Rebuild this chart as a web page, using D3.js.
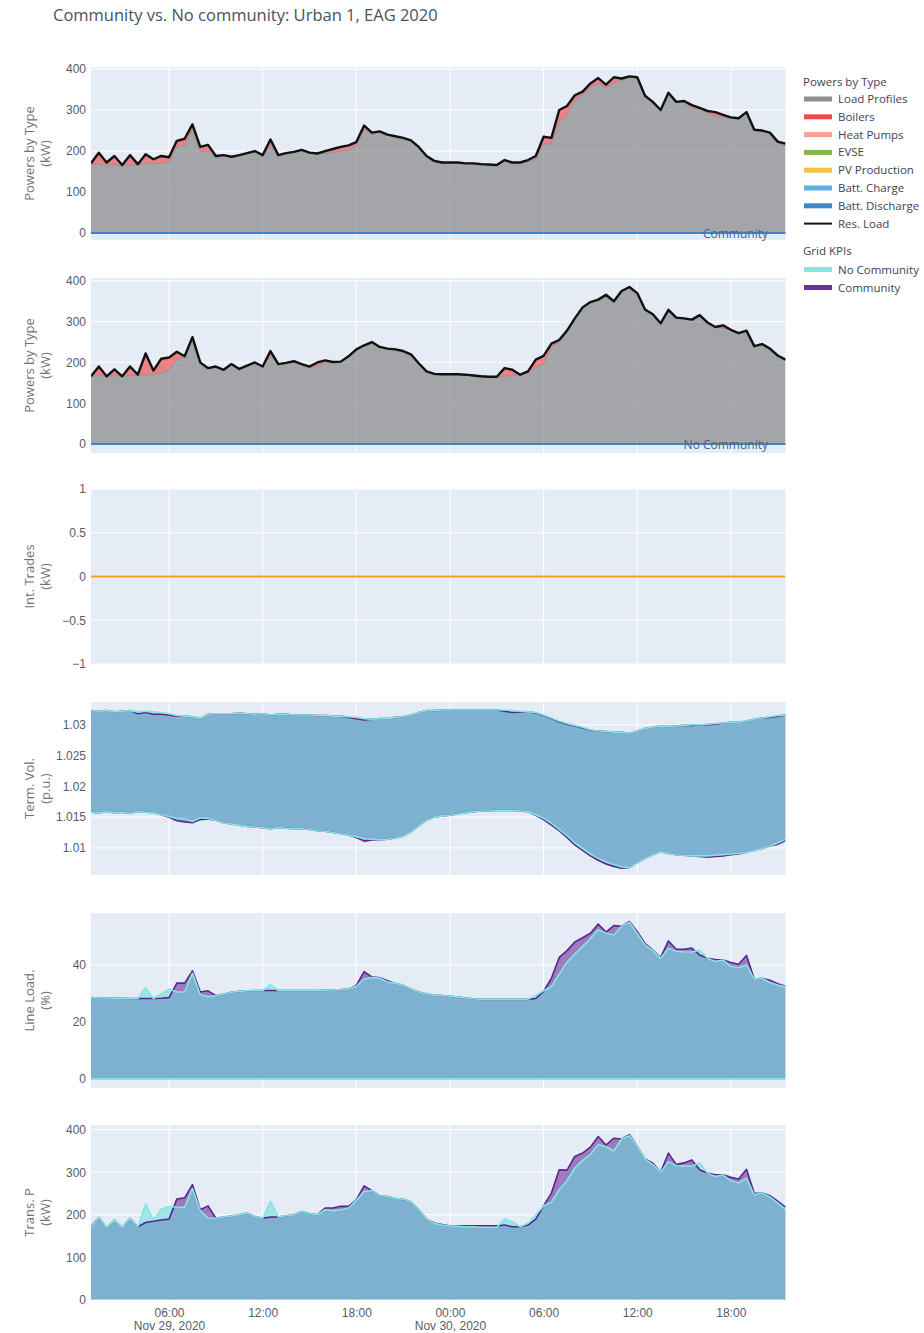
<!DOCTYPE html>
<html lang="en">
<head>
<meta charset="UTF-8">
<title>Community vs. No community: Urban 1, EAG 2020</title>
<script src="https://d3js.org/d3.v7.min.js"></script>
<style>
  body { margin: 0; background: #fff; }
  svg { font-family: "Open Sans", Verdana, Arial, sans-serif; }
  .tick text { fill: #565d68; font-size: 12px; }
  .ytitle { fill: #6b7380; font-size: 13px; }
  .legend text { fill: #3d4450; font-size: 11.5px; }
</style>
</head>
<body>
<div id="chart"></div>
<script>
// 30-minute samples, Nov 29 01:00 -> Nov 30 21:30 (90 points)

// Community: powers by type (kW)
const comLoad = [168,168,167,166,166,166,166,170,170,170,
  173,210,212,253,198,200,184,190,186,190,
  195,200,190,213,190,195,198,203,196,194,
  194,197,200,202,214,252,240,245,240,236,
  232,226,210,188,176,172,172,172,170,170,
  168,167,166,176,172,172,174,180,217,217,
  270,288,324,337,355,366,354,366,372,380,
  380,335,320,300,342,320,320,304,303,294,
  284,282,280,280,295,252,250,245,219,212];
const comBoilers = [2,28,5,22,0,24,2,22,10,18,
  12,15,18,12,12,15,4,0,0,0,
  0,0,0,15,0,0,0,0,0,0,
  6,8,10,12,8,10,5,3,0,0,
  0,0,0,0,0,0,0,0,0,0,
  0,0,0,2,0,0,4,8,18,15,
  30,22,12,8,10,12,8,14,5,2,
  0,0,0,0,0,0,2,8,2,0,
  8,6,2,0,0,0,0,0,4,6];
const comHeatPumps = [0,0,0,0,0,0,0,0,0,0, 0,0,0,0,0,0,0,0,0,0,
  0,0,0,0,0,0,0,0,0,0, 0,0,0,0,0,0,0,0,0,0,
  0,0,0,0,0,0,0,0,0,0, 0,0,0,0,0,0,0,0,0,0,
  0,0,0,0,0,0,0,0,0,0, 0,0,0,0,0,0,0,0,0,4,
  3,0,0,0,0,0,0,0,0,0];

// No community: powers by type (kW)
const ncLoad = [166,168,166,168,166,168,168,170,170,174,
  182,206,215,262,200,186,190,182,196,184,
  192,200,190,216,196,199,203,196,186,192,
  199,201,202,215,232,239,246,238,234,232,
  228,220,198,178,172,171,171,171,170,168,
  166,165,165,166,168,170,174,187,196,238,
  250,278,308,335,348,354,360,350,375,385,
  370,330,318,296,329,310,308,305,312,298,
  287,285,280,272,278,240,245,234,217,207];
const ncBoilers = [0,22,0,15,0,22,2,52,10,35,
  30,20,0,0,0,0,0,0,0,0,
  0,0,0,12,0,0,0,0,4,8,
  6,0,0,0,0,3,4,0,0,0,
  0,0,0,0,0,0,0,0,0,0,
  0,0,0,20,14,0,4,20,20,8,
  5,0,0,0,0,0,6,0,0,0,
  0,0,0,0,0,0,0,0,4,0,
  0,0,0,0,0,0,0,0,0,0];
const ncHeatPumps = [0,0,0,0,0,0,0,0,0,0, 0,0,0,0,0,0,0,0,0,0,
  0,0,0,0,0,0,0,0,0,0, 0,0,0,0,0,0,0,0,0,0,
  0,0,0,0,0,0,0,0,0,0, 0,0,0,0,0,0,0,0,0,0,
  0,0,0,0,0,0,0,0,0,0, 0,0,0,0,0,0,0,0,0,0,
  0,6,0,0,0,0,0,0,0,0];

// Internal trades (kW)
const intTrades = new Array(90).fill(0);

// Terminal voltage band (p.u.)
const ncVmax = [1.0323,1.0322,1.0323,1.0321,1.0322,1.0323,1.0321,1.0322,1.0321,1.0320,
  1.0318,1.0315,1.0314,1.0313,1.0310,1.0317,1.0318,1.0318,1.0318,1.0319,
  1.0318,1.0317,1.0318,1.0316,1.0317,1.0317,1.0316,1.0316,1.0316,1.0315,
  1.0315,1.0314,1.0314,1.0313,1.0312,1.0310,1.0309,1.0310,1.0310,1.0312,
  1.0313,1.0316,1.0320,1.0323,1.0323,1.0324,1.0324,1.0324,1.0324,1.0324,
  1.0324,1.0324,1.0324,1.0324,1.0323,1.0322,1.0321,1.0320,1.0316,1.0311,
  1.0306,1.0302,1.0299,1.0296,1.0292,1.0290,1.0289,1.0288,1.0288,1.0286,
  1.0290,1.0294,1.0296,1.0298,1.0297,1.0298,1.0299,1.0300,1.0300,1.0301,
  1.0302,1.0303,1.0304,1.0304,1.0306,1.0309,1.0311,1.0313,1.0315,1.0316];
const comVmax = [1.0323,1.0322,1.0323,1.0321,1.0322,1.0323,1.0318,1.0320,1.0317,1.0317,
  1.0316,1.0314,1.0314,1.0313,1.0310,1.0317,1.0318,1.0318,1.0318,1.0319,
  1.0318,1.0317,1.0318,1.0316,1.0317,1.0317,1.0316,1.0316,1.0316,1.0315,
  1.0315,1.0314,1.0314,1.0312,1.0310,1.0308,1.0309,1.0310,1.0310,1.0312,
  1.0313,1.0316,1.0320,1.0323,1.0323,1.0324,1.0324,1.0324,1.0324,1.0324,
  1.0324,1.0324,1.0324,1.0322,1.0320,1.0321,1.0321,1.0319,1.0315,1.0310,
  1.0305,1.0301,1.0298,1.0295,1.0291,1.0290,1.0289,1.0288,1.0288,1.0286,
  1.0290,1.0294,1.0296,1.0298,1.0297,1.0298,1.0299,1.0299,1.0300,1.0300,
  1.0301,1.0303,1.0304,1.0304,1.0306,1.0309,1.0311,1.0312,1.0314,1.0316];
const ncVmin = [1.0158,1.0157,1.0159,1.0157,1.0158,1.0156,1.0159,1.0158,1.0157,1.0154,
  1.0151,1.0148,1.0147,1.0143,1.0149,1.0148,1.0145,1.0141,1.0139,1.0137,
  1.0135,1.0134,1.0133,1.0131,1.0133,1.0132,1.0131,1.0131,1.0130,1.0128,
  1.0127,1.0125,1.0123,1.0121,1.0118,1.0115,1.0114,1.0113,1.0114,1.0116,
  1.0119,1.0126,1.0136,1.0145,1.0150,1.0152,1.0153,1.0155,1.0157,1.0159,
  1.0160,1.0160,1.0161,1.0161,1.0161,1.0160,1.0159,1.0154,1.0148,1.0140,
  1.0130,1.0120,1.0108,1.0099,1.0090,1.0083,1.0077,1.0073,1.0069,1.0068,
  1.0076,1.0083,1.0089,1.0094,1.0091,1.0089,1.0088,1.0087,1.0087,1.0087,
  1.0088,1.0089,1.0090,1.0091,1.0093,1.0096,1.0099,1.0103,1.0108,1.0114];
const comVmin = [1.0158,1.0157,1.0159,1.0157,1.0158,1.0156,1.0159,1.0158,1.0157,1.0154,
  1.0150,1.0144,1.0142,1.0141,1.0146,1.0147,1.0145,1.0141,1.0139,1.0137,
  1.0135,1.0134,1.0133,1.0131,1.0133,1.0132,1.0131,1.0131,1.0130,1.0128,
  1.0127,1.0125,1.0123,1.0121,1.0117,1.0111,1.0113,1.0113,1.0114,1.0116,
  1.0119,1.0126,1.0136,1.0145,1.0150,1.0152,1.0153,1.0155,1.0157,1.0159,
  1.0160,1.0160,1.0161,1.0161,1.0161,1.0160,1.0159,1.0153,1.0146,1.0137,
  1.0128,1.0117,1.0105,1.0096,1.0087,1.0080,1.0074,1.0070,1.0067,1.0068,
  1.0076,1.0083,1.0089,1.0094,1.0091,1.0089,1.0088,1.0087,1.0086,1.0085,
  1.0086,1.0087,1.0089,1.0090,1.0093,1.0096,1.0099,1.0103,1.0106,1.0112];

// Line loading (%)
const ncLineLoad = [28.5,28.4,28.4,28.3,28.3,28.2,28.2,32.0,28.2,29.8,
  31.5,30.5,30.5,37.1,29.5,28.8,29.2,29.8,30.4,30.7,
  30.9,31.0,31.0,33.1,31.0,31.0,31.0,31.0,31.0,31.0,
  31.1,31.2,31.3,31.5,32.5,35.0,35.6,35.3,34.0,33.5,
  32.8,31.5,30.5,29.8,29.4,29.2,29.0,28.7,28.4,28.1,
  27.9,27.9,27.9,27.9,27.9,27.9,27.9,29.3,30.9,32.4,
  36.8,41.0,43.8,46.5,49.2,52.3,51.2,50.5,53.5,55.0,
  51.0,47.0,45.0,42.3,45.8,44.8,44.6,44.5,45.2,42.3,
  41.2,41.7,39.5,39.0,40.0,35.0,35.3,33.8,32.9,32.3];
const comLineLoad = [28.5,28.4,28.4,28.3,28.3,28.2,28.2,28.2,28.2,28.3,
  28.5,33.6,33.6,37.9,30.5,30.9,29.2,29.8,30.4,30.7,
  30.9,31.0,31.0,31.0,31.0,31.0,31.0,31.0,31.0,31.0,
  31.1,31.2,31.3,31.5,32.8,37.6,35.8,35.5,34.4,33.5,
  32.8,31.5,30.5,29.8,29.4,29.2,29.0,28.7,28.4,28.1,
  27.9,27.9,27.9,27.9,27.9,27.9,27.9,28.2,30.7,35.3,
  42.6,45.0,48.0,49.5,51.1,54.3,51.5,53.8,53.5,55.2,
  51.6,47.5,45.2,42.6,48.4,45.5,45.5,45.9,43.5,42.3,
  41.9,41.7,40.8,40.2,43.3,35.0,35.3,34.6,33.4,32.5];

// Transformer power (kW)
const ncTransP = [170,194,170,188,170,192,172,225,188,213,
  220,218,218,262,210,192,192,195,197,200,
  204,196,192,232,195,198,200,208,203,200,
  212,210,212,216,234,255,257,245,243,238,
  237,230,212,190,180,176,174,173,172,172,
  171,171,171,190,184,172,180,200,221,230,
  259,280,310,328,342,365,360,350,378,386,
  361,331,318,300,325,316,315,314,322,298,
  290,294,280,275,286,247,251,242,228,213];
const comTransP = [172,194,170,188,170,192,172,182,185,188,
  190,237,240,271,212,221,192,195,197,200,
  204,196,192,195,195,198,200,208,203,200,
  216,216,220,220,235,268,257,245,243,238,
  237,230,212,190,181,177,174,174,174,174,
  174,174,174,176,172,172,176,190,221,251,
  306,305,337,345,359,384,364,380,378,388,
  361,331,321,300,345,318,322,329,306,298,
  294,294,288,284,307,250,251,245,232,218];

const zeros = new Array(90).fill(0);

// y tick values and axis titles
const powerTicks = [0, 100, 200, 300, 400];
const tradeTicks = [-1, -0.5, 0, 0.5, 1];
const voltTicks = [1.01, 1.015, 1.02, 1.025, 1.03];
const loadTicks = [0, 20, 40];
const powerLegend = ["Load Profiles", "Boilers", "Heat Pumps", "EVSE", "PV Production", "Batt. Charge", "Batt. Discharge", "Res. Load"];
const gridLegend = ["No Community", "Community"];

const times = d3.timeMinute.every(30).range(new Date(2020, 10, 29, 1, 0), new Date(2020, 10, 30, 21, 31));

const W = 924, H = 1333;
const svg = d3.select("#chart").append("svg").attr("width", W).attr("height", H);

const x = d3.scaleTime()
    .domain([times[0], times[times.length - 1]])
    .range([91, 785.5]);
const xTicks = x.ticks(d3.timeHour.every(6));

const panels = [
    {top: 67, bottom: 240, domain: [-17, 405], ticks: powerTicks, title: ["Powers by Type", "(kW)"]},
    {top: 278, bottom: 453, domain: [-22, 407], ticks: powerTicks, title: ["Powers by Type", "(kW)"]},
    {top: 489, bottom: 664, domain: [-1, 1], ticks: tradeTicks, title: ["Int. Trades", "(kW)"]},
    {top: 702, bottom: 875, domain: [1.0056, 1.0337], ticks: voltTicks, title: ["Term. Vol.", "(p.u.)"]},
    {top: 913, bottom: 1088, domain: [-3.2, 58.2], ticks: loadTicks, title: ["Line Load.", "(%)"]},
    {top: 1125, bottom: 1300, domain: [0, 411], ticks: powerTicks, title: ["Trans. P", "(kW)"]}
];

const fmt = d3.format("~g");
const colors = {
    load: "#8f8f8f", boilers: "#ef4b4b", hp: "#f9a093", evse: "#82b74b", pv: "#f5c242",
    charge: "#62aee0", discharge: "#3a88c9", res: "#111111",
    nc: "#84e6e1", com: "#5a2590"
};

// frame, grid and y axis of every panel
panels.forEach((p, i) => {
    p.y = d3.scaleLinear().domain(p.domain).range([p.bottom, p.top]);
    const g = svg.append("g");
    g.append("rect").attr("x", x.range()[0]).attr("y", p.top)
        .attr("width", x.range()[1] - x.range()[0]).attr("height", p.bottom - p.top)
        .attr("fill", "#e5ecf6");
    g.selectAll(".vg").data(xTicks).join("line")
        .attr("x1", d => x(d)).attr("x2", d => x(d))
        .attr("y1", p.top).attr("y2", p.bottom)
        .attr("stroke", "#fff").attr("stroke-width", 1);
    g.selectAll(".hg").data(p.ticks).join("line")
        .attr("x1", x.range()[0]).attr("x2", x.range()[1])
        .attr("y1", d => p.y(d)).attr("y2", d => p.y(d))
        .attr("stroke", "#fff").attr("stroke-width", d => d === 0 ? 2 : 1);
    const ax = g.append("g").attr("transform", `translate(${x.range()[0]},0)`)
        .call(d3.axisLeft(p.y).tickValues(p.ticks).tickFormat(fmt).tickSize(0).tickPadding(5));
    ax.select(".domain").remove();
    ax.selectAll(".tick text").attr("font-family", null).attr("font-size", null);

    const t = svg.append("text").attr("class", "ytitle")
        .attr("transform", `translate(36,${(p.top + p.bottom) / 2}) rotate(-90)`)
        .attr("text-anchor", "middle");
    t.append("tspan").attr("x", 0).attr("dy", "-0.15em").text(p.title[0]);
    t.append("tspan").attr("x", 0).attr("dy", "1.25em").text(p.title[1]);

    svg.append("clipPath").attr("id", "clip" + i).append("rect")
        .attr("x", x.range()[0]).attr("y", p.top)
        .attr("width", x.range()[1] - x.range()[0]).attr("height", p.bottom - p.top);
    p.g = svg.append("g").attr("clip-path", `url(#clip${i})`);
});

// panels 1-2: stacked powers by type
function drawPowers(p, load, boilers, hp, label) {
    const rows = times.map((d, i) => ({time: d, load: load[i], boilers: boilers[i], hp: hp[i]}));
    const series = d3.stack().keys(["load", "boilers", "hp"])(rows);
    const fills = {load: "rgba(128,128,128,0.65)", boilers: "rgba(239,59,59,0.6)", hp: "rgba(250,150,135,0.6)"};
    const area = d3.area().x((d, i) => x(times[i])).y0(d => p.y(d[0])).y1(d => p.y(d[1]));
    const edge = d3.line().x((d, i) => x(times[i])).y(d => p.y(d[1]));
    p.g.selectAll(".stack").data(series).join("path")
        .attr("d", area).attr("fill", s => fills[s.key]);
    p.g.selectAll(".edge").data(series).join("path")
        .attr("d", edge).attr("fill", "none")
        .attr("stroke", s => colors[s.key]).attr("stroke-width", 0.8);
    const flat = d3.line().x((d, i) => x(times[i])).y(d => p.y(d));
    [["evse", zeros], ["pv", zeros], ["charge", zeros], ["discharge", zeros]].forEach(([k, v]) => {
        p.g.append("path").attr("d", flat(v)).attr("fill", "none")
            .attr("stroke", colors[k]).attr("stroke-width", 2);
    });
    const top = series[series.length - 1];
    p.g.append("path").attr("d", edge(top)).attr("fill", "none")
        .attr("stroke", colors.res).attr("stroke-width", 2.4).attr("stroke-linejoin", "round");
    svg.append("text").attr("x", 768).attr("y", p.y(0) + 5)
        .attr("text-anchor", "end").attr("fill", "#4f6080").attr("font-size", 12).text(label);
}
drawPowers(panels[0], comLoad, comBoilers, comHeatPumps, "Community");
drawPowers(panels[1], ncLoad, ncBoilers, ncHeatPumps, "No Community");

// panel 3: internal trades
{
    const p = panels[2];
    p.g.append("path")
        .attr("d", d3.line().x((d, i) => x(times[i])).y(d => p.y(d))(intTrades))
        .attr("fill", "none").attr("stroke", "#f29d1f").attr("stroke-width", 2);
}

// panels 4-6: grid KPIs
const comFill = "rgba(100,30,150,0.55)";
const ncFill = "rgba(100,220,220,0.55)";

function drawBand(p, lo, hi, fill) {
    p.g.append("path")
        .attr("d", d3.area().x((d, i) => x(times[i])).y0((d, i) => p.y(lo[i])).y1((d, i) => p.y(hi[i]))(times))
        .attr("fill", fill);
}
function drawLine(p, v, color, w) {
    p.g.append("path")
        .attr("d", d3.line().x((d, i) => x(times[i])).y(d => p.y(d))(v))
        .attr("fill", "none").attr("stroke", color).attr("stroke-width", w)
        .attr("stroke-linejoin", "round");
}

{
    const p = panels[3];
    drawBand(p, comVmin, comVmax, comFill);
    drawBand(p, ncVmin, ncVmax, ncFill);
    drawLine(p, comVmin, colors.com, 1.6);
    drawLine(p, comVmax, colors.com, 1.6);
    drawLine(p, ncVmin, colors.nc, 1.6);
    drawLine(p, ncVmax, colors.nc, 1.6);
}
[[panels[4], comLineLoad, ncLineLoad], [panels[5], comTransP, ncTransP]].forEach(([p, com, nc]) => {
    drawBand(p, zeros, com, comFill);
    drawBand(p, zeros, nc, ncFill);
    drawLine(p, zeros, colors.nc, 2);
    drawLine(p, com, colors.com, 1.6);
    drawLine(p, nc, colors.nc, 1.6);
});

// shared x axis under the last panel
{
    const p = panels[5];
    const dateFmt = d3.timeFormat("%b %d, %Y");
    const ax = svg.append("g").attr("transform", `translate(0,${p.bottom})`)
        .call(d3.axisBottom(x).tickValues(xTicks).tickFormat(d3.timeFormat("%H:%M")).tickSize(0).tickPadding(8));
    ax.select(".domain").remove();
    ax.selectAll(".tick text").attr("font-family", null).attr("font-size", null)
        .each(function (d, i) {
            if (i === 0 || d.getHours() === 0) {
                d3.select(this).append("tspan").attr("x", 0).attr("dy", "1.15em").text(dateFmt(d));
            }
        });
}

// title
svg.append("text").attr("x", 53).attr("y", 21)
    .attr("fill", "#4a515c").attr("font-size", 16.5)
    .text("Community vs. No community: Urban 1, EAG 2020");

// legend
{
    const lg = svg.append("g").attr("class", "legend");
    const swatch = ["load", "boilers", "hp", "evse", "pv", "charge", "discharge", "res"];
    lg.append("text").attr("x", 803).attr("y", 86).text("Powers by Type");
    powerLegend.forEach((name, i) => {
        const yy = 99 + i * 17.8;
        if (swatch[i] === "res") {
            lg.append("line").attr("x1", 804).attr("x2", 832).attr("y1", yy).attr("y2", yy)
                .attr("stroke", colors.res).attr("stroke-width", 2);
        } else {
            lg.append("rect").attr("x", 804).attr("y", yy - 2.5).attr("width", 28).attr("height", 5)
                .attr("fill", colors[swatch[i]]);
        }
        lg.append("text").attr("x", 838).attr("y", yy + 4).text(name);
    });
    lg.append("text").attr("x", 803).attr("y", 255).text("Grid KPIs");
    gridLegend.forEach((name, i) => {
        const yy = 269.5 + i * 18;
        lg.append("rect").attr("x", 804).attr("y", yy - 2.5).attr("width", 28).attr("height", 5)
            .attr("fill", i === 0 ? colors.nc : "#6b2fa0");
        lg.append("text").attr("x", 838).attr("y", yy + 4).text(name);
    });
}
</script>
</body>
</html>
